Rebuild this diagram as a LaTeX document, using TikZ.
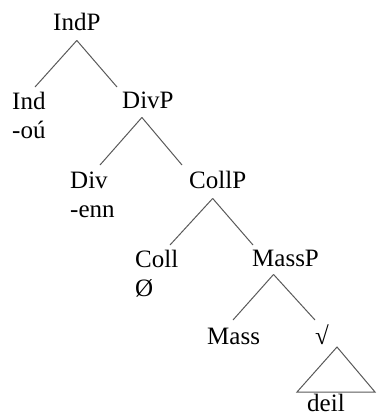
\documentclass[tikz,border=0pt]{standalone}
\usepackage{fontspec}
\setmainfont{Liberation Serif}
\usetikzlibrary{positioning}

\begin{document}
\begin{tikzpicture}[x=1pt, y=-1pt,
    lbl/.style={anchor=base west, inner sep=0pt, font=\fontsize{25}{30}\selectfont},
    branch/.style={black!65, line width=1pt}]
    \useasboundingbox (0,0) rectangle (376,416);

    % Category labels
    \node[lbl] (IndP) at (53, 30) {IndP};
    \node[lbl] (Ind) at (12, 109) {Ind};
    \node[lbl] (DivP) at (122, 108) {DivP};
    \node[lbl] (Div) at (70, 188) {Div};
    \node[lbl] (CollP) at (189, 188) {CollP};
    \node[lbl] (Coll) at (135, 267) {Coll};
    \node[lbl] (MassP) at (252, 266) {MassP};
    \node[lbl] (Mass) at (207, 344) {Mass};
    \node[lbl] (root) at (315, 344) {√};

    % Exponents
    \node[lbl] (ou) at (12, 138) {-oú};
    \node[lbl] (enn) at (70, 217) {-enn};
    \node[lbl] (zero) at (135, 296) {Ø};
    \node[lbl] (deil) at (307, 411) {deil};

    % Branches
    \draw[branch] ([shift={(0,10)}]IndP.south) -- ([shift={(23,-22)}]Ind.base west);
    \draw[branch] ([shift={(0,10)}]IndP.south) -- ([shift={(-5,-21)}]DivP.base west);
    \draw[branch] ([shift={(-6,9)}]DivP.south) -- ([shift={(30,-23)}]Div.base west);
    \draw[branch] ([shift={(-6,9)}]DivP.south) -- ([shift={(-7,-23)}]CollP.base west);
    \draw[branch] ([shift={(-5,10)}]CollP.south) -- ([shift={(35,-22)}]Coll.base west);
    \draw[branch] ([shift={(-5,10)}]CollP.south) -- ([shift={(1,-21)}]MassP.base west);
    \draw[branch] ([shift={(-12,8)}]MassP.south) -- ([shift={(26,-24)}]Mass.base west);
    \draw[branch] ([shift={(-12,8)}]MassP.south) -- ([shift={(0,-24)}]root.base west);

    % Triangle over the root
    \draw[branch] ([shift={(22,3)}]root.base west) -- ([shift={(-10,-19)}]deil.base west)
        -- ([shift={(68,-19)}]deil.base west) -- cycle;
\end{tikzpicture}
\end{document}
